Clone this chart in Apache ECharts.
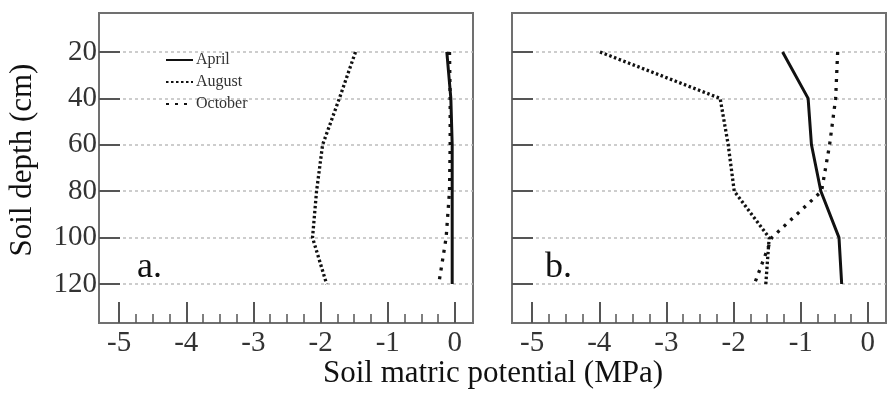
<!DOCTYPE html>
<html>
<head>
<meta charset="utf-8">
<script src="https://cdn.jsdelivr.net/npm/echarts@6/dist/echarts.min.js"></script>
<style>html,body{margin:0;padding:0;background:#fff}#c{width:893px;height:398px}</style>
</head>
<body>
<div id="c"></div>
<script>
// ---- data ----
var depths = [20, 40, 60, 80, 100, 120];
var xTickValues = [-5, -4, -3, -2, -1, 0];
var seriesNames = ['April', 'August', 'October'];
var aApril   = [-0.12, -0.06, -0.04, -0.04, -0.04, -0.04];
var aAugust  = [-1.48, -1.72, -1.97, -2.06, -2.12, -1.91];
var aOctober = [-0.08, -0.07, -0.07, -0.08, -0.13, -0.24];
var bApril   = [-1.27, -0.89, -0.84, -0.70, -0.43, -0.39];
var bAugust  = [-3.99, -2.20, -2.08, -1.99, -1.47, -1.52];
var bOctober = [-0.45, -0.48, -0.57, -0.69, -1.43, -1.69];
var panelLabels = ['a.', 'b.'];

// minor tick positions (quarter steps between major ticks)
var minorTicks = [];
for (var i = 0; i < xTickValues.length - 1; i++) {
  for (var k = 1; k < 4; k++) minorTicks.push(xTickValues[i] + k * 0.25);
}

var FONT = 'Liberation Serif';
var styles = {
  April:   {color: '#111', width: 3, type: 'solid'},
  August:  {color: '#111', width: 3.3, type: [2.5, 2.5]},
  October: {color: '#111', width: 3.3, type: [3, 6]}
};

function pairs(vals) { return vals.map(function (v, i) { return [v, depths[i]]; }); }

var grids = [
  {left: 99, top: 13, width: 374, height: 310, show: true, borderColor: '#707070', borderWidth: 2},
  {left: 512, top: 13, width: 374, height: 310, show: true, borderColor: '#707070', borderWidth: 2}
];

var xAxes = [], yAxes = [];
[0, 1].forEach(function (g) {
  xAxes.push({
    type: 'value', gridIndex: g, position: 'bottom', min: -5.3, max: 0.27,
    axisLine: {show: false, onZero: false},
    axisTick: {show: true, inside: true, length: 21, customValues: xTickValues, lineStyle: {color: '#555', width: 2}},
    axisLabel: {show: true, customValues: xTickValues, margin: 6, fontSize: 29, fontFamily: FONT, color: '#333'},
    splitLine: {show: false}
  });
});
[0, 1].forEach(function (g) {
  xAxes.push({
    type: 'value', gridIndex: g, position: 'bottom', min: -5.3, max: 0.27,
    axisLine: {show: false, onZero: false},
    axisTick: {show: true, inside: true, length: 9, customValues: minorTicks, lineStyle: {color: '#555', width: 1.5}},
    axisLabel: {show: false},
    splitLine: {show: false}
  });
});
[0, 1].forEach(function (g) {
  yAxes.push({
    type: 'value', gridIndex: g, position: 'left', inverse: true, min: 3.2, max: 136.8,
    axisLine: {show: false, onZero: false},
    axisTick: {show: true, inside: true, length: 21, customValues: depths, lineStyle: {color: '#555', width: 2}},
    axisLabel: {show: g === 0, customValues: depths, margin: 2, fontSize: 29, fontFamily: FONT, color: '#333'},
    splitLine: {show: true, lineStyle: {color: '#bdbdbd', width: 1.5, type: [3, 3]}}
  });
});

var panelData = [[aApril, aAugust, aOctober], [bApril, bAugust, bOctober]];
var series = [];
panelData.forEach(function (set, g) {
  set.forEach(function (vals, j) {
    var nm = seriesNames[j];
    series.push({
      name: nm, type: 'line', xAxisIndex: g, yAxisIndex: g,
      data: pairs(vals), symbol: 'none', animation: false,
      lineStyle: styles[nm], itemStyle: {color: '#111'}
    });
  });
});

var chart = echarts.init(document.getElementById('c'), null, {renderer: 'canvas'});
chart.setOption({
  animation: false,
  grid: grids,
  xAxis: xAxes,
  yAxis: yAxes,
  legend: {
    data: seriesNames, orient: 'vertical', left: 160, top: 47,
    itemWidth: 27, itemHeight: 12, itemGap: 6,
    itemStyle: {opacity: 0},
    textStyle: {fontSize: 16, fontFamily: FONT, color: '#333', padding: [0, 0, 0, -2]},
    selectedMode: false
  },
  graphic: [
    {type: 'text', left: 137, top: 250, style: {text: panelLabels[0], font: '36px "Liberation Serif"', fill: '#111'}},
    {type: 'text', left: 545, top: 250, style: {text: panelLabels[1], font: '36px "Liberation Serif"', fill: '#111'}},
    {type: 'text', x: 23, y: 160, rotation: Math.PI / 2,
     style: {text: 'Soil depth (cm)', font: '31px "Liberation Serif"', fill: '#111', align: 'center', verticalAlign: 'middle'}},
    {type: 'text', x: 493, y: 374,
     style: {text: 'Soil matric potential (MPa)', font: '31px "Liberation Serif"', fill: '#111', align: 'center', verticalAlign: 'middle'}}
  ],
  series: series
});
</script>
</body>
</html>
